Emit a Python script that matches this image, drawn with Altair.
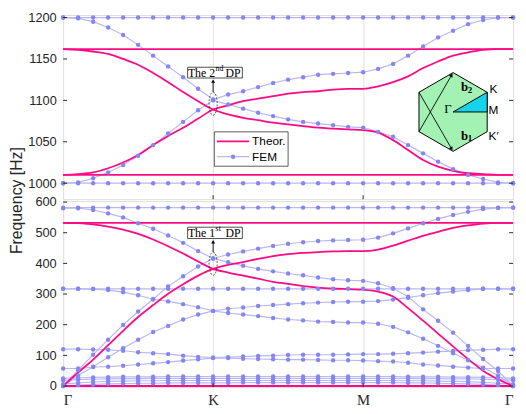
import altair as alt
import pandas as pd
import numpy as np

# ---------------- data ----------------
k_index = list(range(31))                 # 10 steps per segment  Γ-K-M-Γ
k_tick_pos = [0, 10, 20, 30]
k_tick_lab = ["Γ", "K", "M", "Γ"]

# upper window (FEM)
fem_hi_1 = [1200, 1200, 1200, 1200, 1200, 1200, 1200, 1200, 1200, 1200, 1200, 1200, 1200, 1200, 1200, 1200,
            1200, 1200, 1200, 1200, 1200, 1200, 1200, 1200, 1200, 1200, 1200, 1200, 1200, 1200, 1200]
fem_hi_2 = [1000, 1000, 1000, 1000, 1000, 1000, 1000, 1000, 1000, 1000, 1000, 1000, 1000, 1000, 1000, 1000,
            1000, 1000, 1000, 1000, 1000, 1000, 1000, 1000, 1000, 1000, 1000, 1000, 1000, 1000, 1000]
fem_hi_3 = [1200, 1199, 1195, 1188, 1179, 1167, 1154, 1141, 1128, 1114, 1101, 1107, 1111, 1116, 1121, 1125,
            1128, 1131, 1132, 1133, 1134, 1138, 1144, 1154, 1165, 1176, 1184, 1192, 1197, 1200, 1200]
fem_hi_4 = [1000, 1001, 1006, 1013, 1022, 1033, 1046, 1060, 1074, 1088, 1100, 1095, 1090, 1085, 1081, 1077,
            1074, 1072, 1070, 1068, 1067, 1062, 1056, 1046, 1036, 1026, 1017, 1010, 1005, 1001, 1000]
# upper window (theory)
theo_hi_1 = [1162, 1162, 1162, 1162, 1162, 1162, 1162, 1162, 1162, 1162, 1162, 1162, 1162, 1162, 1162, 1162,
             1162, 1162, 1162, 1162, 1162, 1162, 1162, 1162, 1162, 1162, 1162, 1162, 1162, 1162, 1162]
theo_hi_2 = [1010, 1010, 1010, 1010, 1010, 1010, 1010, 1010, 1010, 1010, 1010, 1010, 1010, 1010, 1010, 1010,
             1010, 1010, 1010, 1010, 1010, 1010, 1010, 1010, 1010, 1010, 1010, 1010, 1010, 1010, 1010]
theo_hi_3 = [1162, 1161, 1159, 1156, 1150, 1143, 1133, 1122, 1110, 1099, 1089, 1083, 1079, 1076, 1073, 1071,
             1069, 1067, 1066, 1065, 1064, 1061, 1052, 1040, 1028, 1020, 1015, 1012, 1011, 1010, 1010]
theo_hi_4 = [1010, 1011, 1013, 1018, 1025, 1034, 1046, 1057, 1067, 1078, 1089, 1094, 1099, 1102, 1105, 1108,
             1110, 1111, 1113, 1114, 1114, 1117, 1122, 1129, 1139, 1147, 1154, 1158, 1161, 1162, 1162]

# lower window (FEM)
fem_lo_1 = [582, 582, 582, 582, 582, 582, 582, 582, 582, 582, 582, 582, 582, 582, 582, 582,
            582, 582, 582, 582, 582, 582, 582, 582, 582, 582, 582, 582, 582, 582, 582]
fem_lo_2 = [580, 580, 574, 563, 550, 531, 513, 491, 467, 440, 416, 429, 439, 448, 457, 464,
            469, 473, 475, 476, 477, 484, 498, 514, 531, 545, 558, 568, 577, 581, 582]
fem_lo_3 = [0, 52, 102, 151, 199, 243, 283, 325, 358, 390, 416, 404, 392, 382, 374, 367,
            361, 354, 348, 345, 343, 335, 319, 291, 250, 213, 174, 131, 88, 49, 0]
fem_lo_4 = [317, 317, 317, 317, 317, 317, 317, 317, 317, 317, 317, 317, 317, 317, 317, 317,
            317, 317, 317, 317, 317, 317, 317, 317, 317, 317, 317, 317, 317, 317, 317]
fem_lo_5 = [317, 317, 316, 313, 306, 296, 283, 276, 267, 257, 245, 252, 256, 261, 264, 267,
            270, 272, 274, 275, 275, 277, 282, 288, 296, 303, 308, 313, 317, 317, 317]
fem_lo_6 = [0, 34, 63, 94, 123, 151, 176, 196, 217, 233, 245, 238, 233, 228, 222, 217,
            214, 210, 209, 207, 207, 203, 193, 175, 154, 131, 107, 84, 60, 34, 0]
fem_lo_7 = [120, 120, 119, 118, 115, 110, 107, 104, 99, 95, 93, 94, 96, 98, 99, 101,
            102, 102, 102, 103, 104, 104, 105, 107, 109, 112, 114, 117, 118, 120, 120]
fem_lo_8 = [57, 57, 62, 63, 66, 70, 74, 78, 83, 87, 91, 91, 89, 88, 87, 86,
            86, 85, 84, 84, 83, 81, 80, 76, 70, 67, 63, 60, 57, 57, 57]
fem_lo_9 = [25, 27, 28, 29, 30, 30, 30, 31, 31, 31, 31, 31, 31, 31, 31, 31,
            31, 31, 31, 31, 31, 31, 31, 30, 30, 30, 29, 29, 28, 27, 25]
fem_lo_10 = [19, 21, 22, 23, 24, 24, 25, 25, 25, 25, 25, 25, 25, 25, 25, 25,
             25, 25, 25, 25, 25, 25, 25, 25, 24, 24, 23, 23, 22, 21, 19]
fem_lo_11 = [6, 10, 13, 15, 16, 17, 17, 18, 18, 18, 18, 18, 18, 18, 18, 18,
             18, 18, 18, 18, 18, 18, 18, 17, 17, 16, 15, 14, 12, 9, 6]
fem_lo_12 = [0, 3, 5, 7, 8, 9, 9, 10, 10, 10, 10, 10, 11, 11, 11, 11,
             11, 11, 11, 11, 11, 11, 11, 10, 10, 9, 8, 7, 5, 3, 0]
# lower window (theory)
theo_lo_1 = [532, 532, 532, 532, 532, 532, 532, 532, 532, 532, 532, 532, 532, 532, 532, 532,
             532, 532, 532, 532, 532, 532, 532, 532, 532, 532, 532, 532, 532, 532, 532]
theo_lo_2 = [0, 0, 0, 0, 0, 0, 0, 0, 0, 0, 0, 0, 0, 0, 0, 0,
             0, 0, 0, 0, 0, 0, 0, 0, 0, 0, 0, 0, 0, 0, 0]
theo_lo_3 = [532, 531, 527, 520, 510, 496, 478, 456, 432, 406, 382, 370, 360, 350, 340, 333,
             326, 321, 318, 316, 314, 308, 292, 254, 213, 171, 129, 88, 50, 22, 0]
theo_lo_4 = [0, 44, 86, 133, 180, 225, 264, 301, 332, 360, 382, 395, 404, 415, 424, 430,
             434, 437, 439, 440, 440, 445, 458, 474, 490, 503, 516, 524, 530, 532, 532]

top_ticks = [1000, 1050, 1100, 1150, 1200]
bot_ticks = [0, 100, 200, 300, 400, 500, 600]
legend_labels = ["Theor.", "FEM"]

# ---------------- style / layout ----------------
W, H1, H2 = 457, 187, 189
TOP_DOM = [980.7, 1203.0]
BOT_DOM = [-4.0, 603.0]
PINK = "#ff0a84"
FEM_LINE = "#b8b8f7"
FEM_DOT = "#8686f2"
GRID = "#e2e2e2"
INK = "#262626"
SANS = "Liberation Sans"
SERIF = "Liberation Serif"
SX = W / 30.0
SY_TOP = H1 / (TOP_DOM[1] - TOP_DOM[0])
SY_BOT = H2 / (BOT_DOM[1] - BOT_DOM[0])


def bands_df(bands):
    rows = []
    for name, vals in bands.items():
        for i, v in zip(k_index, vals):
            rows.append({"band": name, "i": i, "f": v})
    return pd.DataFrame(rows)


def enc_x(show_labels):
    if show_labels:
        expr = " : ".join(
            [f"datum.value == {p} ? '{l}'" for p, l in zip(k_tick_pos[:-1], k_tick_lab[:-1])]
        ) + f" : '{k_tick_lab[-1]}'"
        ax = alt.Axis(values=k_tick_pos, labelExpr=expr, title=None, ticks=False, domain=False,
                      grid=True, gridColor=GRID, labelFont=SERIF, labelFontSize=15,
                      labelColor=INK, labelPadding=6)
    else:
        ax = alt.Axis(values=[10, 20], labels=False, title=None, ticks=False, domain=False,
                      grid=True, gridColor=GRID)
    return alt.X("i:Q", scale=alt.Scale(domain=[0, 30], nice=False, zero=False), axis=ax)


def enc_y(dom, ticks, title=None, title_y=None):
    kw = dict(values=ticks, format="d", ticks=False, domain=False, grid=False, labelFont=SANS,
              labelFontSize=13, labelColor=INK, labelPadding=7)
    if title:
        kw.update(title=title, titleY=title_y, titleFont=SANS, titleFontSize=16,
                  titleFontWeight="normal", titleColor=INK, titlePadding=3)
    else:
        kw["title"] = None
    return alt.Y("f:Q", scale=alt.Scale(domain=dom, nice=False, zero=False), axis=alt.Axis(**kw))


def panel(fem, theo, dom, ticks, x_enc, y_enc, sy, dp_center, dp_box, sup, num):
    fem_df = bands_df(fem)
    theo_df = bands_df(theo)
    L = []
    L.append(alt.Chart(fem_df).mark_line(color=FEM_LINE, strokeWidth=1.2).encode(
        x=x_enc, y=y_enc, detail="band:N"))
    L.append(alt.Chart(theo_df).mark_line(color=PINK, strokeWidth=1.8, interpolate="monotone").encode(
        x=x_enc, y=y_enc, detail="band:N"))
    L.append(alt.Chart(fem_df).mark_circle(color=FEM_DOT, size=20, opacity=1).encode(x=x_enc, y=y_enc))
    # inward ticks
    inner = [t for t in ticks if dom[0] < t < dom[1]]
    tl = pd.DataFrame({"i": [0] * len(inner), "f": inner})
    tr = pd.DataFrame({"i": [30] * len(inner), "f": inner})
    L.append(alt.Chart(tl).mark_tick(orient="horizontal", size=4, thickness=1, color=INK, xOffset=2, opacity=1)
             .encode(x=x_enc, y=y_enc))
    L.append(alt.Chart(tr).mark_tick(orient="horizontal", size=4, thickness=1, color=INK, xOffset=-2, opacity=1)
             .encode(x=x_enc, y=y_enc))
    tb = pd.DataFrame({"i": [10, 20], "f": [dom[0], dom[0]]})
    L.append(alt.Chart(tb).mark_tick(orient="vertical", size=4, thickness=1, color=INK, yOffset=-2, opacity=1)
             .encode(x=x_enc, y=y_enc))
    # Dirac point annotation
    ci, cf = dp_center
    half_h = 11.8
    ell_top = cf + half_h / sy
    box_lo, box_hi = dp_box
    head_f = box_lo - 3.2 / sy
    L.append(alt.Chart(pd.DataFrame({"i": [ci], "f": [cf]})).mark_point(
        shape="M0,-1A0.35,1,0,1,1,0,1A0.35,1,0,1,1,0,-1Z", size=(2 * half_h) ** 2,
        stroke="#333333", strokeWidth=0.8, strokeDash=[2, 1.5], filled=False, opacity=1)
        .encode(x=x_enc, y=y_enc))
    L.append(alt.Chart(pd.DataFrame({"i": [ci], "f": [ell_top], "f2": [head_f]})).mark_rule(
        color="black", strokeWidth=0.9).encode(x=x_enc, y=y_enc, y2=alt.Y2("f2:Q")))
    L.append(alt.Chart(pd.DataFrame({"i": [ci], "f": [head_f]})).mark_point(
        shape="triangle-up", filled=True, color="black", size=16, opacity=1).encode(x=x_enc, y=y_enc))
    L.append(alt.Chart(pd.DataFrame({"i": [ci - 1.7], "i2": [ci + 1.95], "f": [box_lo], "f2": [box_hi]}))
             .mark_rect(fill="white", stroke="#222222", strokeWidth=0.8)
             .encode(x=x_enc, x2=alt.X2("i2:Q"), y=y_enc, y2=alt.Y2("f2:Q")))
    mid = (box_lo + box_hi) / 2
    d = pd.DataFrame({"i": [ci], "f": [mid]})
    L.append(alt.Chart(d.assign(t=f"The {num}")).mark_text(
        font=SERIF, fontSize=12, color="black", align="right", baseline="middle", dx=2)
        .encode(x=x_enc, y=y_enc, text="t:N"))
    L.append(alt.Chart(d.assign(t=sup)).mark_text(
        font=SERIF, fontSize=8, color="black", align="left", baseline="middle", dx=2.5, dy=-3.5)
        .encode(x=x_enc, y=y_enc, text="t:N"))
    L.append(alt.Chart(d.assign(t="DP")).mark_text(
        font=SERIF, fontSize=12, color="black", align="left", baseline="middle", dx=12.5)
        .encode(x=x_enc, y=y_enc, text="t:N"))
    return L


# ---------- top panel ----------
x_top = enc_x(False)
y_top = enc_y(TOP_DOM, top_ticks, "Frequency [Hz]", H1 + 1)
top_layers = panel({"a": fem_hi_1, "b": fem_hi_2, "c": fem_hi_3, "d": fem_hi_4},
                   {"a": theo_hi_1, "b": theo_hi_2, "c": theo_hi_3, "d": theo_hi_4},
                   TOP_DOM, top_ticks, x_top, y_top, SY_TOP, (10, 1096), (1127, 1140), "nd", "2")

# legend (drawn in data space of top panel)
leg_box = pd.DataFrame({"i": [10.08], "i2": [15.0], "f": [1020.5], "f2": [1062]})
top_layers.append(alt.Chart(leg_box).mark_rect(fill="white", stroke="#333333", strokeWidth=0.8)
                  .encode(x=x_top, x2=alt.X2("i2:Q"), y=y_top, y2=alt.Y2("f2:Q")))
leg_rows = pd.DataFrame({"i": [10.25, 10.25], "i2": [12.4, 12.4], "f": [1050.5, 1032.0],
                         "lab": legend_labels})
top_layers.append(alt.Chart(leg_rows.iloc[[0]]).mark_rule(color=PINK, strokeWidth=1.8)
                  .encode(x=x_top, x2=alt.X2("i2:Q"), y=y_top))
top_layers.append(alt.Chart(leg_rows.iloc[[1]]).mark_rule(color=FEM_LINE, strokeWidth=1.2)
                  .encode(x=x_top, x2=alt.X2("i2:Q"), y=y_top))
top_layers.append(alt.Chart(pd.DataFrame({"i": [11.33], "f": [1032.0]})).mark_circle(
    color=FEM_DOT, size=20, opacity=1).encode(x=x_top, y=y_top))
top_layers.append(alt.Chart(leg_rows.assign(i=12.6)).mark_text(
    font=SANS, fontSize=12, color="black", align="left", baseline="middle")
    .encode(x=x_top, y=y_top, text="lab:N"))

# inset: hexagonal Brillouin zone
hex_ci, hex_cf, R = 26.0, 1086.0, 40.0
c = R * np.sqrt(3) / 2


def to_i(dx):
    return hex_ci + dx / SX


def to_f(dy):
    return hex_cf - dy / SY_TOP


hex_df = pd.DataFrame({"i": [to_i(-c), to_i(0), to_i(c)],
                       "f": [to_f(R / 2), to_f(R), to_f(R / 2)],
                       "f2": [to_f(-R / 2), to_f(-R), to_f(-R / 2)]})
top_layers.append(alt.Chart(hex_df).mark_area(fill="#a2f2b3", stroke="black", strokeWidth=1, opacity=1)
                  .encode(x=x_top, y=y_top, y2=alt.Y2("f2:Q")))
tri_df = pd.DataFrame({"i": [to_i(0), to_i(c)], "f": [to_f(0), to_f(0)], "f2": [to_f(0), to_f(-R / 2)]})
top_layers.append(alt.Chart(tri_df).mark_area(fill="#14d4ec", stroke="black", strokeWidth=1, opacity=1)
                  .encode(x=x_top, y=y_top, y2=alt.Y2("f2:Q")))
h = 3.0
vec_df = pd.DataFrame({"i": [to_i(-c), to_i(-c)], "f": [to_f(R / 2), to_f(-R / 2)],
                       "i2": [to_i(-0.5 * h), to_i(-0.5 * h)],
                       "f2": [to_f(-R + 0.866 * h), to_f(R - 0.866 * h)]})
top_layers.append(alt.Chart(vec_df).mark_rule(color="black", strokeWidth=0.9)
                  .encode(x=x_top, y=y_top, x2=alt.X2("i2:Q"), y2=alt.Y2("f2:Q")))
for ang, dy in [(30, -R + 0.866 * h), (150, R - 0.866 * h)]:
    top_layers.append(alt.Chart(pd.DataFrame({"i": [to_i(-0.5 * h)], "f": [to_f(dy)]})).mark_point(
        shape="triangle-up", filled=True, color="black", size=18, angle=ang, opacity=1)
        .encode(x=x_top, y=y_top))
lab_sans = pd.DataFrame({"i": [to_i(37), to_i(36), to_i(36)],
                         "f": [to_f(-23), to_f(-2), to_f(24)], "t": ["K", "M", "K′"]})
top_layers.append(alt.Chart(lab_sans).mark_text(font=SANS, fontSize=12, color="black", align="left",
                                                baseline="middle").encode(x=x_top, y=y_top, text="t:N"))
top_layers.append(alt.Chart(pd.DataFrame({"i": [to_i(-1.5)], "f": [to_f(-3)], "t": ["Γ"]})).mark_text(
    font=SERIF, fontSize=13, color="black", align="right", baseline="middle")
    .encode(x=x_top, y=y_top, text="t:N"))
top_layers.append(alt.Chart(pd.DataFrame({"i": [to_i(8), to_i(8)], "f": [to_f(-25), to_f(24)],
                                          "t": ["b", "b"]})).mark_text(
    font=SERIF, fontSize=13, fontWeight="bold", color="black", align="left", baseline="middle")
    .encode(x=x_top, y=y_top, text="t:N"))
top_layers.append(alt.Chart(pd.DataFrame({"i": [to_i(15), to_i(15)], "f": [to_f(-22), to_f(27)],
                                          "t": ["2", "1"]})).mark_text(
    font=SERIF, fontSize=9, fontWeight="bold", color="black", align="left", baseline="middle")
    .encode(x=x_top, y=y_top, text="t:N"))

top = alt.layer(*top_layers).properties(width=W, height=H1)

# ---------- bottom panel ----------
x_bot = enc_x(True)
y_bot = enc_y(BOT_DOM, bot_ticks)
bot_layers = panel({"a": fem_lo_1, "b": fem_lo_2, "c": fem_lo_3, "d": fem_lo_4, "e": fem_lo_5,
                    "f": fem_lo_6, "g": fem_lo_7, "h": fem_lo_8, "i": fem_lo_9, "j": fem_lo_10,
                    "k": fem_lo_11, "l": fem_lo_12},
                   {"a": theo_lo_1, "b": theo_lo_2, "c": theo_lo_3, "d": theo_lo_4},
                   BOT_DOM, bot_ticks, x_bot, y_bot, SY_BOT, (10, 399), (481, 518), "st", "1")
bottom = alt.layer(*bot_layers).properties(width=W, height=H2)

chart = alt.vconcat(top, bottom, spacing=2, bounds="flush").properties(
    padding={"left": 0, "top": 0, "right": 0, "bottom": 0}
).configure_view(stroke="#9a9a9a", strokeWidth=1).configure(background="white")

chart.save("out.html", embed_options={"renderer": "svg", "actions": False})
